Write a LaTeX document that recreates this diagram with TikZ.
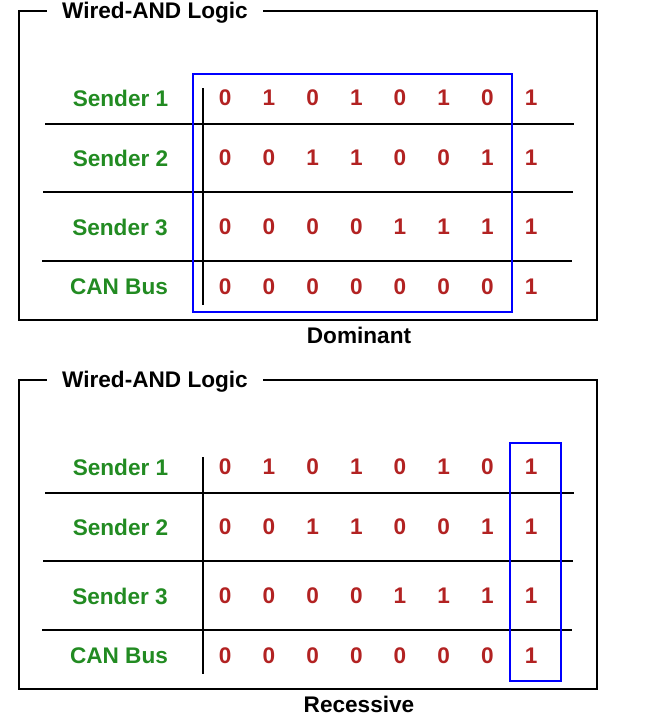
\documentclass[tikz,border=0pt]{standalone}
\usepackage{fontspec}
\setmainfont{Liberation Sans}
\definecolor{sgreen}{RGB}{34,139,34}
\definecolor{dred}{RGB}{178,34,34}
\definecolor{bblue}{RGB}{0,0,255}
\tikzset{
  boxline/.style={draw=black,line width=1.8pt},
  rowline/.style={draw=black,line width=1.6pt},
  hilite/.style={draw=bblue,line width=1.6pt},
  titletext/.style={fill=white,inner xsep=15pt,inner ysep=2pt,anchor=base,text=black},
  rowlabel/.style={text=sgreen,inner sep=0pt},
  bit/.style={text=dred,inner sep=0pt},
  captext/.style={anchor=base,text=black,inner sep=0pt}
}
\newcommand\canpanel[4]{% #1 prefix, #2 y offset, #3 highlight box, #4 caption
\begin{scope}[shift={(0,#2)}]
  \draw[boxline] (19,11) rectangle (597,320);
  \node[titletext] (#1title) at (155,18.5) {Wired-AND Logic};
  \node[rowlabel] (#1s1) at (120.5,98) {Sender 1};
  \node[rowlabel] (#1s2) at (120.5,158) {Sender 2};
  \node[rowlabel] (#1s3) at (120,227) {Sender 3};
  \node[rowlabel] (#1bus) at (119,287) {CAN Bus};
  \foreach \b [count=\c] in {0,1,0,1,0,1,0,1}
    \node[bit] (#1ra\c) at ({181.5+43.7*\c},98) {\b};
  \foreach \b [count=\c] in {0,0,1,1,0,0,1,1}
    \node[bit] (#1rb\c) at ({181.5+43.7*\c},158) {\b};
  \foreach \b [count=\c] in {0,0,0,0,1,1,1,1}
    \node[bit] (#1rc\c) at ({181.5+43.7*\c},227) {\b};
  \foreach \b [count=\c] in {0,0,0,0,0,0,0,1}
    \node[bit] (#1rd\c) at ({181.5+43.7*\c},287) {\b};
  \coordinate (#1vt) at (203,88);
  \coordinate (#1vb) at (203,305);
  \draw[rowline] (#1vt) -- (#1vb);
  \draw[rowline] (45,124) -- (574,124);
  \draw[rowline] (43,192) -- (573,192);
  \draw[rowline] (42,261) -- (572,261);
  \draw[hilite] #3;
  \node[captext] (#1cap) at (359,343) {#4};
\end{scope}}
\begin{document}
\begin{tikzpicture}[x=1pt,y=-1pt,font=\fontsize{22.6}{26}\selectfont\bfseries]
  \useasboundingbox (0,0) rectangle (651,716);
  \canpanel{t}{0}{(193,74) rectangle (512,312)}{Dominant}
  \canpanel{b}{369}{(510,74) rectangle (561,312)}{Recessive}
\end{tikzpicture}
\end{document}
